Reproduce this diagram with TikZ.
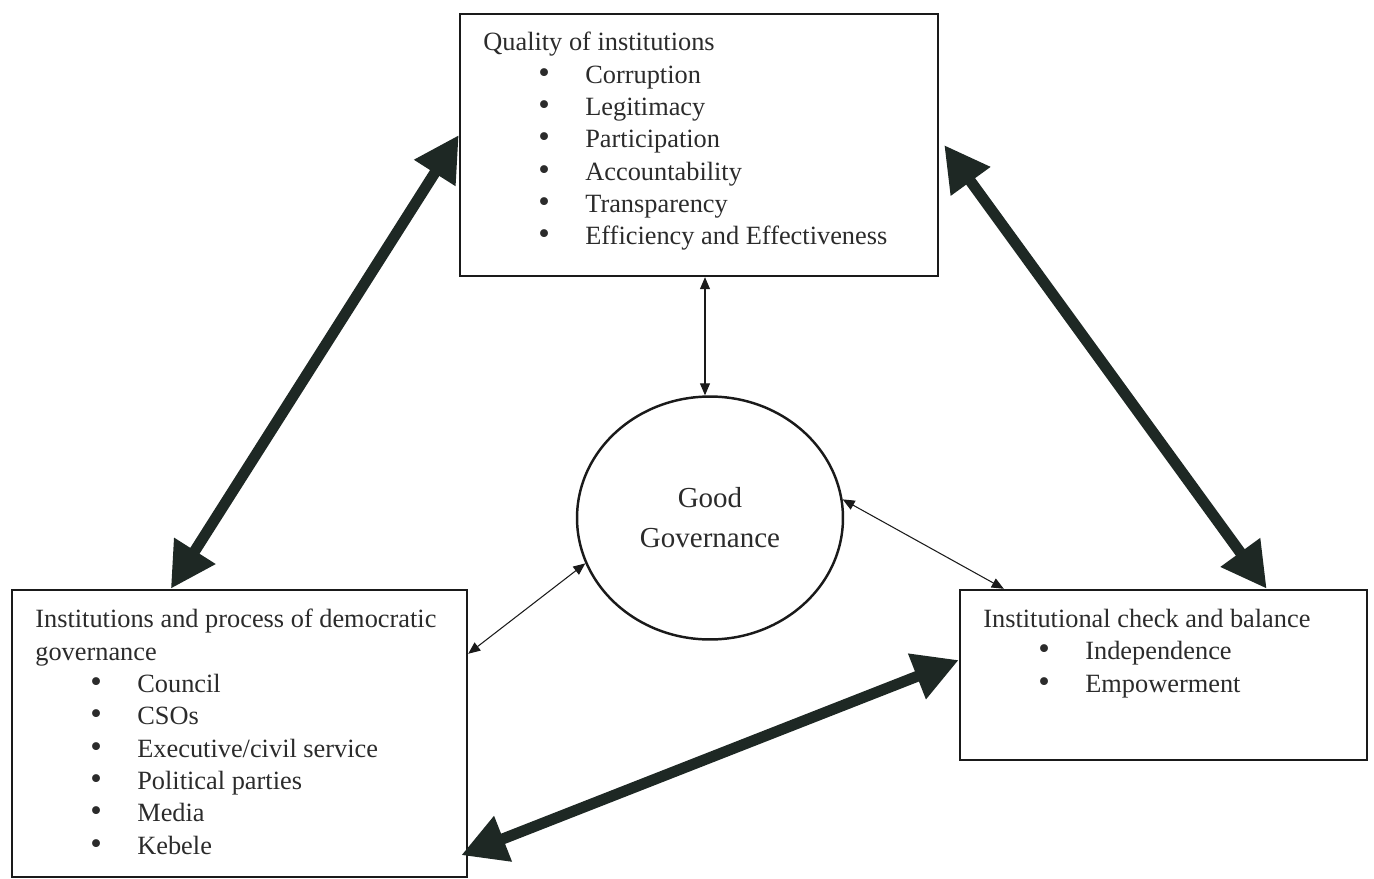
\documentclass[tikz,border=0pt]{standalone}
\usepackage{fontspec}
\setmainfont{Liberation Serif}
\usepackage{xcolor}
\usepackage{tikz}
\definecolor{govInk}{HTML}{2B2B2B}
\definecolor{govDark}{HTML}{1E2824}
\definecolor{govLine}{HTML}{1A1A1A}
\usetikzlibrary{arrows.meta,positioning,shapes.geometric,calc}

% one bullet line inside a box
\newcommand{\govitem}[1]{\hspace*{1.1cm}\makebox[0.94cm][l]{\scalebox{1.25}{\textbullet}}#1}

\begin{document}
\begin{tikzpicture}[
  x=0.02cm, y=-0.02cm,
  font=\fontsize{15}{18.4}\selectfont,
  govbox/.style={draw=govLine, line width=1.4pt, rectangle, inner sep=0pt},
  govtext/.style={anchor=north west, align=left, inner sep=0pt, text=govInk},
  govcircle/.style={draw=govLine, line width=1.4pt, ellipse, inner sep=0pt,
    minimum width=5.32cm, minimum height=4.86cm, align=center, text=govInk,
    font=\fontsize{16.5}{22.7}\selectfont},
  strong/.style={{Triangle[length=0.9cm,width=0.92cm]}-{Triangle[length=0.9cm,width=0.92cm]},
    line width=0.22cm, govDark},
  weak/.style={{Triangle[length=0.24cm,width=0.2cm]}-{Triangle[length=0.24cm,width=0.2cm]},
    line width=0.6pt, govLine}
]
\useasboundingbox (0,0) rectangle (1374,879);

% boxes
\node[govbox, minimum width=9.56cm, minimum height=5.24cm] (quality) at (699,145) {};
\node[govbox, minimum width=9.1cm, minimum height=5.74cm] (demo) at (239.5,733.5) {};
\node[govbox, minimum width=8.14cm, minimum height=3.4cm] (check) at (1163.5,675) {};
\node[govcircle] (good) at (710,518) {Good\\Governance};

% box contents
\node[govtext] (qualitytext) at (483,32)
{Quality of institutions\\
\govitem{Corruption}\\
\govitem{Legitimacy}\\
\govitem{Participation}\\
\govitem{Accountability}\\
\govitem{Transparency}\\
\govitem{Efficiency and Effectiveness}};

\node[govtext] (demotext) at (35,609)
{Institutions and process of democratic\\
governance\\
\govitem{Council}\\
\govitem{CSOs}\\
\govitem{Executive/civil service}\\
\govitem{Political parties}\\
\govitem{Media}\\
\govitem{Kebele}};

\node[govtext] (checktext) at (983,609)
{Institutional check and balance\\
\govitem{Independence}\\
\govitem{Empowerment}};

% links between the boxes
\draw[strong] ([yshift=0.2cm]quality.west) -- ([xshift=3.2cm]demo.north west);
\draw[strong] ([xshift=0.1cm]quality.east) -- ([xshift=6.16cm]check.north west);
\draw[strong] ([xshift=-0.14cm,yshift=0.46cm]demo.south east) -- ([yshift=0.3cm]check.west);

% links to the centre
\draw[weak] ([xshift=-0.1cm]quality.south -| good.north) -- ([xshift=-0.1cm]good.north);
\draw[weak] ([yshift=-1.3cm]demo.north east) -- (good.200);
\draw[weak] (good.8) -- ([xshift=0.9cm]check.north west);

\end{tikzpicture}
\end{document}
